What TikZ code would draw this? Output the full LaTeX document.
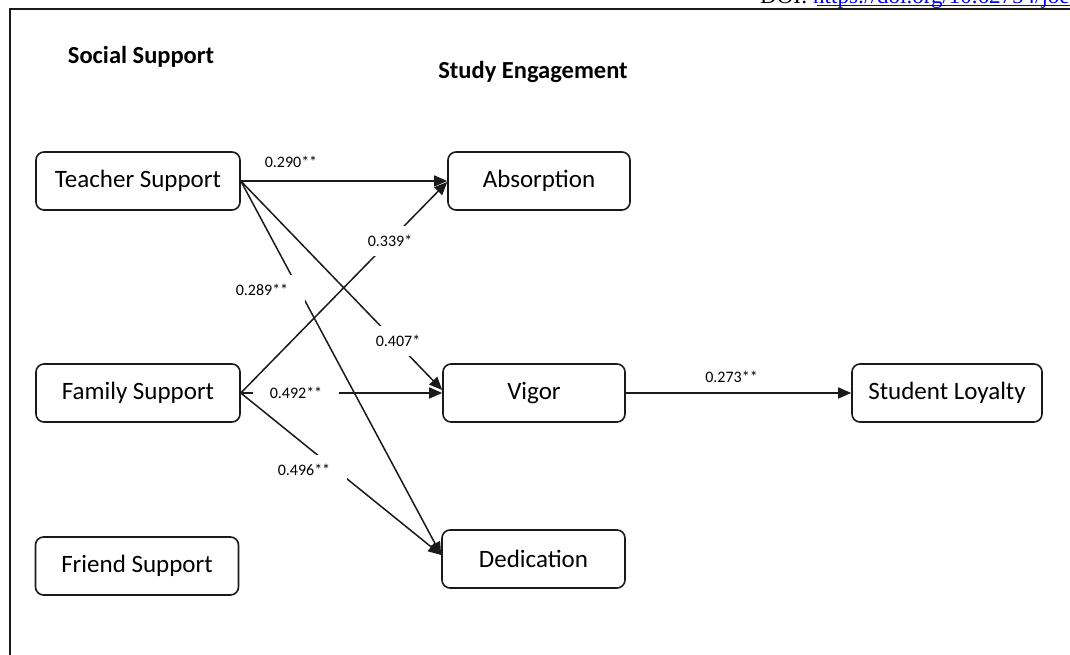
\documentclass[tikz,border=0pt]{standalone}
\usepackage{fontspec}
\setmainfont{Carlito}
\newfontfamily\doiserif{Liberation Serif}
\usetikzlibrary{arrows.meta,positioning,calc}
\definecolor{ink}{HTML}{1A1A1A}
\definecolor{linkblue}{HTML}{0000EE}
\tikzset{
  varbox/.style={draw=ink, line width=1.6pt, rounded corners=8pt, fill=white,
    minimum height=58pt, inner sep=0pt, font=\fontsize{25}{29}\selectfont},
  header/.style={font=\fontsize{24.5}{28}\selectfont\bfseries, inner sep=0pt},
  conn/.style={draw=ink, line width=1.5pt, -{Triangle[length=13pt,width=11pt]}},
  coef/.style={fill=white, minimum width=86pt, minimum height=30pt, inner sep=0pt,
    font=\fontsize{16}{18}\selectfont},
  frame/.style={draw=ink, line width=2pt}
}
\begin{document}
\begin{tikzpicture}[x=1pt,y=1pt]
\useasboundingbox (0,0) rectangle (1070,655);
\fill[white] (0,0) rectangle (1070,655);
% header line and DOI
\coordinate (fl) at (10,0);
\coordinate (ftl) at (10,646);
\coordinate (ftr) at (1072,646);
\draw[frame] (fl) -- (ftl) -- (ftr);
\node[anchor=base west, inner sep=0pt, font=\doiserif\fontsize{23}{26}\selectfont] (doi) at (760,651)
  {DOI: \textcolor{linkblue}{https://doi.org/10.62754/joe}};
\coordinate (ula) at (817,649.5);
\coordinate (ulb) at (1072,649.5);
\draw[linkblue, line width=1.5pt] (ula) -- (ulb);
% headers
\node[header] (hss) at (141,598) {Social Support};
\node[header] (hse) at (533,583) {Study Engagement};
% boxes
\node[varbox, minimum width=204pt] (teach) at (138,474) {Teacher Support};
\node[varbox, minimum width=204pt] (fam) at (138,262) {Family Support};
\node[varbox, minimum width=203pt] (friend) at (137,89) {Friend Support};
\node[varbox, minimum width=182pt] (abs) at (539,474) {Absorption};
\node[varbox, minimum width=182pt] (vig) at (534,262) {Vigor};
\node[varbox, minimum width=183pt] (ded) at (533.5,96) {Dedication};
\node[varbox, minimum width=190pt] (loy) at (947,262) {Student Loyalty};
% connectors
\draw[conn] (fam.east) -- (vig.west);
\node[coef] (l492) at (296,262) {0.492**};
\draw[conn] (teach.east) -- (abs.west);
\draw[conn] (teach.east) -- ([yshift=3pt]vig.west);
\draw[conn] (teach.east) -- ([yshift=4pt]ded.west);
\draw[conn] (fam.east) -- ([yshift=-1pt]abs.west);
\draw[conn] (fam.east) -- ([yshift=4pt]ded.west);
\draw[conn] (vig.east) -- (loy.west);
% coefficient labels
\node[coef] (l290) at (291,493) {0.290**};
\node[coef] (l339) at (390,414) {0.339*};
\node[coef] (l289) at (262,365) {0.289**};
\node[coef] (l407) at (398,314) {0.407*};
\node[coef] (l496) at (304,185) {0.496**};
\node[coef] (l273) at (731.5,278) {0.273**};
\end{tikzpicture}
\end{document}
